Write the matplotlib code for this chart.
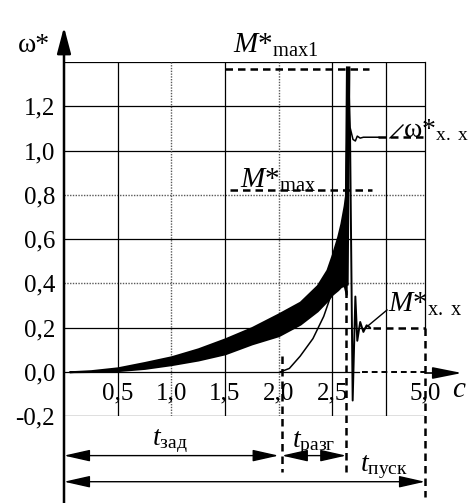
import numpy as np
import matplotlib.pyplot as plt

plt.rcParams['font.family'] = ['Liberation Serif', 'DejaVu Serif']
plt.rcParams['mathtext.fontset'] = 'custom'
plt.rcParams['mathtext.rm'] = 'Liberation Serif'
plt.rcParams['mathtext.it'] = 'Liberation Serif:italic'

# axis ticks
x_ticks = [0.5, 1.0, 1.5, 2.0, 2.5, 3.0, 5.0]
x_labels = ['0,5', '1,0', '1,5', '2,0', '2,5', '', '5,0']
y_ticks = [-0.2, 0.0, 0.2, 0.4, 0.6, 0.8, 1.0, 1.2, 1.4]
y_labels = ['-0,2', '0,0', '0,2', '0,4', '0,6', '0,8', '1,0', '1,2', '']

# torque M* : oscillation band (envelope) up to the peak
band_t = [0.05, 0.25, 0.5, 0.75, 1.0, 1.25, 1.5, 1.75, 2.0, 2.2, 2.36, 2.45, 2.5, 2.55, 2.58, 2.61, 2.63]
band_hi = [0.0, 0.005, 0.018, 0.042, 0.068, 0.104, 0.149, 0.20, 0.262, 0.315, 0.39, 0.46, 0.53, 0.61, 0.67, 0.75, 0.82]
band_lo = [0.0, 0.001, 0.005, 0.015, 0.032, 0.053, 0.081, 0.126, 0.163, 0.215, 0.275, 0.32, 0.35, 0.37, 0.385, 0.39, 0.35]

# torque M* : peak and settling
spike_t = [2.632, 2.648]
spike_m = [0.40, 1.37]
torque_t = [2.63, 2.648, 2.665, 2.69, 2.715, 2.733, 2.76, 2.79, 2.82, 2.85]
torque = [0.82, 1.37, 1.1, -0.13, 0.34, 0.14, 0.225, 0.18, 0.21, 0.20]

# speed w*
speed_t = [2.02, 2.1, 2.2, 2.32, 2.42, 2.47, 2.55, 2.62, 2.645, 2.668, 2.693, 2.715, 2.733, 2.76, 2.79, 2.93]
speed = [0.0, 0.015, 0.07, 0.15, 0.25, 0.32, 0.45, 0.60, 0.9, 1.10, 1.05, 1.043, 1.065, 1.056, 1.06, 1.06]

m_max1 = 1.37
m_max = 0.82
w_xx = 1.06
m_xx = 0.2
t_zad = 2.0
t_razg0 = 2.03
t_razg1 = 2.63
t_end = 5.0

# x axis is compressed after 3 s
K = 0.182


def fwd(x):
    x = np.asarray(x, dtype=float)
    return np.where(x <= 3, x, 3 + (x - 3) * K)


def inv(y):
    y = np.asarray(y, dtype=float)
    return np.where(y <= 3, y, 3 + (y - 3) / K)


W, H = 468, 503


def px(x, y):
    return x / W, 1 - y / H


fig = plt.figure(figsize=(W / 100, H / 100), dpi=100)
ax = fig.add_axes([64 / W, 1 - 416 / H, 361 / W, 354 / H])
ax.set_xscale('function', functions=(fwd, inv))
ax.set_xlim(0, 5)
ax.set_ylim(-0.2, 1.4)

for s in ax.spines.values():
    s.set_visible(False)

ax.set_xticks(x_ticks)
ax.set_xticklabels(x_labels)
ax.set_yticks(y_ticks)
ax.set_yticklabels(y_labels)
ax.tick_params(axis='both', length=0, labelsize=18)
ax.tick_params(axis='x', pad=-24.5)
ax.tick_params(axis='y', pad=6.5)
ax.minorticks_off()

solid = dict(color='black', lw=0.9, zorder=1)
dotted = dict(color='0.35', lw=1.0, ls=(0, (1, 1)), zorder=1)

# grid
x0_end = fwd(2.75) / fwd(5.0)
x2_end = fwd(2.85) / fwd(5.0)
for y in y_ticks:
    if y in (0.4, 0.8):
        ax.axhline(y, **dotted)
    elif y == 0.0:
        ax.axhline(y, xmax=x0_end, **solid)
    elif y == 0.2:
        ax.axhline(y, xmax=x2_end, **solid)
    else:
        ax.axhline(y, **solid)
for x in x_ticks[:-1]:
    if x in (1.0, 2.0):
        ax.axvline(x, **dotted)
    else:
        ax.axvline(x, **solid)
ax.plot([t_end, t_end], [m_xx, 1.4], clip_on=False, **solid)

dash = dict(color='black', lw=1.8, ls=(0, (3, 2)), clip_on=False, zorder=3)

# level lines
ax.plot([1.5, 2.84], [m_max1, m_max1], **dash)
ax.plot([1.55, 2.87], [m_max, m_max], **dash)
ax.plot([2.93, t_end], [w_xx, w_xx], **dash)
ax.plot([2.88, t_end], [m_xx, m_xx], **dash)
ax.plot([2.78, t_end], [0, 0], color='black', lw=1.4, ls=(0, (3, 2)), zorder=3)

# vertical markers
ax.plot([t_razg0, t_razg0], [0.07, -0.451], **dash)
ax.plot([t_razg1, t_razg1], [m_max, -0.451], **dash)
ax.plot([t_end, t_end], [m_xx, -0.567], **dash)

# curves
ax.fill_between(band_t, band_lo, band_hi, color='black', lw=1.4, zorder=4)
ax.plot(spike_t, spike_m, color='black', lw=3.2, zorder=4)
ax.plot(torque_t, torque, color='black', lw=1.4, zorder=4)
ax.plot(speed_t, speed, color='black', lw=1.1, zorder=4)

# axes arrows
head = '-|>,head_length=1.6,head_width=0.42'
ax.annotate('', xy=px(64, 27), xycoords='figure fraction',
            xytext=px(64, 503), textcoords='figure fraction',
            arrowprops=dict(arrowstyle=head, color='black', lw=1.8,
                            shrinkA=0, shrinkB=0, mutation_scale=10))
ax.annotate('', xy=px(462, 373), xycoords='figure fraction',
            xytext=px(425, 373), textcoords='figure fraction',
            arrowprops=dict(arrowstyle='-|>,head_length=1.8,head_width=0.36',
                            color='black', lw=1.2, shrinkA=0, shrinkB=0,
                            mutation_scale=10))

# dimension arrows
dim = dict(arrowstyle='<|-|>,head_length=1.6,head_width=0.36', color='black',
           lw=1.0, shrinkA=0, shrinkB=0, mutation_scale=10)
ax.annotate('', xy=(t_zad, -0.379), xytext=(0, -0.379), arrowprops=dim,
            annotation_clip=False)
ax.annotate('', xy=(t_razg1, -0.379), xytext=(t_razg0, -0.379), arrowprops=dim,
            annotation_clip=False)
ax.annotate('', xy=(t_end, -0.497), xytext=(0, -0.497), arrowprops=dim,
            annotation_clip=False)

# leader lines
for (a, b), (c, d) in [((390, 138), (403, 125)), ((363, 330), (387, 310))]:
    fig.add_artist(plt.Line2D([a / W, c / W], [1 - b / H, 1 - d / H],
                              color='black', lw=1.0))

# labels
fig.text(*px(18, 52), 'ω*', fontsize=20)
fig.text(*px(233, 53), r'$M{*}_{\mathrm{max1}}$', fontsize=21)
fig.text(*px(240, 188), r'$M{*}_{\mathrm{max}}$', fontsize=21)
fig.text(*px(403, 137), r'$\mathrm{ω}{*}_{\mathrm{х.\ х}}$', fontsize=20)
fig.text(*px(388, 312), r'$M{*}_{\mathrm{х.\ х}}$', fontsize=21)
fig.text(*px(452, 397), 'с', fontsize=21, fontstyle='italic')
fig.text(*px(152, 445), r'$t_{\mathrm{зад}}$', fontsize=20)
fig.text(*px(292, 447), r'$t_{\mathrm{разг}}$', fontsize=20)
fig.text(*px(360, 471), r'$t_{\mathrm{пуск}}$', fontsize=20)

fig.savefig('out.png', dpi=100)
